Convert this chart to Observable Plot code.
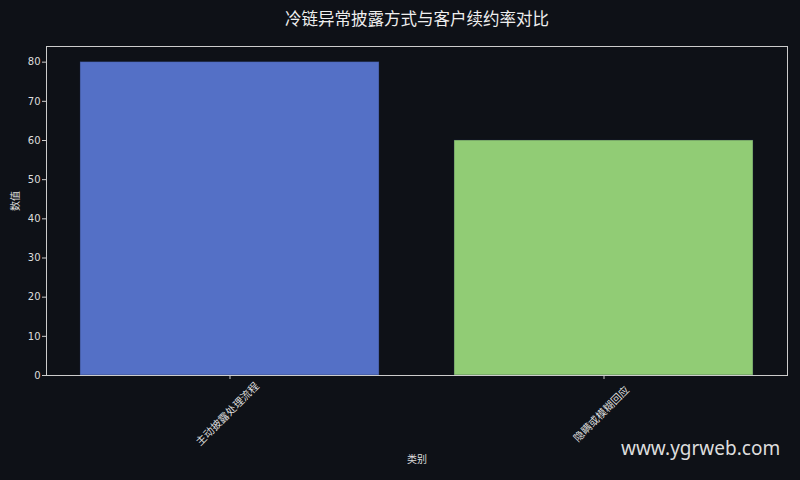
<!DOCTYPE html>
<html>
<head>
<meta charset="utf-8">
<script src="https://cdn.jsdelivr.net/npm/d3@7"></script>
<script src="https://cdn.jsdelivr.net/npm/@observablehq/plot@0.6"></script>
<style>
  html, body { margin: 0; padding: 0; background: #0e1117; width: 800px; height: 480px; overflow: hidden; }
  #wrap { position: relative; width: 800px; height: 480px; font-family: "Noto Sans CJK SC", "Noto Sans", sans-serif; }
  #title { position: absolute; left: 17px; top: 6px; width: 800px; text-align: center; color: #eeeeee; font-size: 16.5px; line-height: 24px; white-space: nowrap; }
  #chart { position: absolute; left: 0; top: 40px; }
  #wm { position: absolute; left: 621px; top: 435px; color: #dddddd; font-family: "Noto Sans", sans-serif; font-size: 19px; line-height: 26px; }
</style>
</head>
<body>
<div id="wrap">
  <div id="chart"></div>
  <div id="title">冷链异常披露方式与客户续约率对比</div>
  <div id="wm">www.ygrweb.com</div>
</div>
<script>
const categories = ["主动披露处理流程", "隐瞒或模糊回应"];
const values = [80, 60];
const colors = ["#5470c6", "#91cc75"];
const yTicks = [0, 10, 20, 30, 40, 50, 60, 70, 80];
const xLabel = "类别";
const yLabel = "数值";

const data = categories.map((c, i) => ({cat: c, value: values[i]}));

const chart = Plot.plot({
  width: 800,
  height: 440,
  marginTop: 6,
  marginBottom: 105,
  marginLeft: 46,
  marginRight: 13,
  style: { background: "transparent", color: "#dddddd", fontFamily: "'DejaVu Sans', 'Noto Sans CJK SC', sans-serif", fontSize: "10px" },
  x: { type: "band", domain: categories, paddingInner: 0.2, paddingOuter: 0.09, label: null },
  y: { domain: [0, 84], label: null },
  color: { domain: categories, range: colors },
  marks: [
    Plot.barY(data, { x: "cat", y: "value", fill: "cat", stroke: "#1a2440", strokeOpacity: 0.5, strokeWidth: 0.8 }),
    Plot.frame({ stroke: "#cccccc", strokeWidth: 1 }),
    Plot.axisY({ ticks: yTicks, tickSize: 4, tickPadding: 2, stroke: "#cccccc", fill: "#dddddd", fontSize: 10, label: null }),
    Plot.axisX({ tickSize: 4, stroke: "#cccccc", tickFormat: () => "", label: null }),
    Plot.text(categories, { x: d => d, frameAnchor: "bottom", dy: 41, rotate: -45, textAnchor: "middle", fill: "#dddddd", fontSize: 10.5, fontFamily: "'Noto Sans CJK SC', sans-serif" }),
    Plot.text([xLabel], { frameAnchor: "bottom", dy: 87, fill: "#dddddd", fontSize: 10, fontFamily: "'Noto Sans CJK SC', sans-serif" }),
    Plot.text([yLabel], { frameAnchor: "left", dx: -31, rotate: -90, fill: "#dddddd", fontSize: 10, fontFamily: "'Noto Sans CJK SC', sans-serif" })
  ]
});
document.getElementById("chart").appendChild(chart);
</script>
</body>
</html>
